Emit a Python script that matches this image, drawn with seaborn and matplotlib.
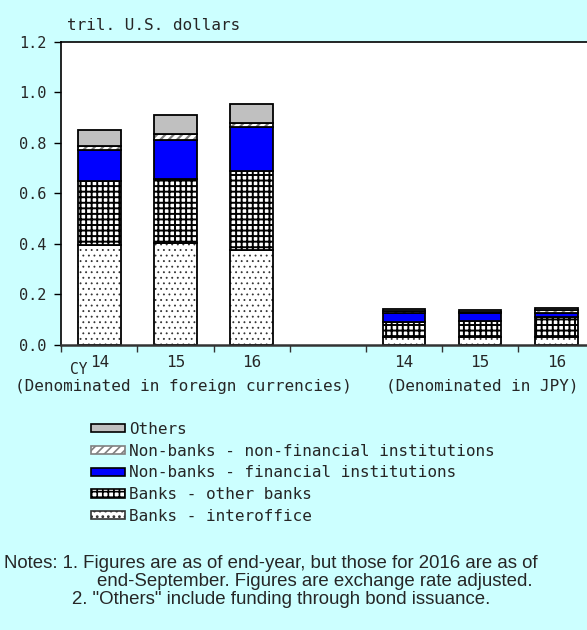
import matplotlib
matplotlib.use("Agg")
import matplotlib.pyplot as plt
import seaborn as sns
import pandas as pd
import numpy as np
from matplotlib.patches import Patch

# ---- data ----
categories = ["FC14", "FC15", "FC16", "GAP", "JP14", "JP15", "JP16"]
tick_labels = ["14", "15", "16", "", "14", "15", "16"]
bar_cats = ["FC14", "FC15", "FC16", "JP14", "JP15", "JP16"]
interoffice = [0.396, 0.402, 0.375, 0.030, 0.033, 0.030]
other_banks = [0.254, 0.255, 0.312, 0.062, 0.063, 0.080]
fin_inst = [0.121, 0.153, 0.174, 0.036, 0.029, 0.018]
nonfin_inst = [0.017, 0.023, 0.017, 0.006, 0.006, 0.010]
others = [0.064, 0.078, 0.075, 0.007, 0.007, 0.008]
series_names = ["Banks - interoffice", "Banks - other banks",
                "Non-banks - financial institutions",
                "Non-banks - non-financial institutions", "Others"]
series_values = [interoffice, other_banks, fin_inst, nonfin_inst, others]
y_ticks = [0.0, 0.2, 0.4, 0.6, 0.8, 1.0, 1.2]

BG = "#CCFFFF"
MONO = "DejaVu Sans Mono"

sns.set_theme(style="white")
plt.rcParams["font.family"] = [MONO]
plt.rcParams["hatch.linewidth"] = 1.4

styles = [
    dict(facecolor="white", hatch="...", hcolor="#333333", hlw=0.6),
    dict(facecolor="white", hatch="+++", hcolor="black", hlw=1.4),
    dict(facecolor="#0000FF", hatch=None, hcolor="black", hlw=1.4),
    dict(facecolor="white", hatch="////", hcolor="#808080", hlw=1.6),
    dict(facecolor="#C0C0C0", hatch=None, hcolor="black", hlw=1.4),
]

fig = plt.figure(figsize=(5.87, 6.30), dpi=100, facecolor=BG)
ax = fig.add_axes([0.1045, 0.4524, 0.908, 0.4814])
ax.set_facecolor("white")

bottom = np.zeros(len(bar_cats))
for name, vals, st in zip(series_names, series_values, styles):
    plt.rcParams["hatch.linewidth"] = st["hlw"]
    df = pd.DataFrame({"cat": bar_cats, "val": vals})
    n_before = len(ax.patches)
    sns.barplot(data=df, x="cat", y="val", order=categories, ax=ax,
                width=0.56, bottom=bottom.copy(), errorbar=None,
                color=st["facecolor"], saturation=1, linewidth=0)
    for p in ax.patches[n_before:]:
        p.set_facecolor(st["facecolor"])
        if st["hatch"]:
            p.set_hatch(st["hatch"])
            p.set_edgecolor(st["hcolor"])
            if hasattr(p, "set_hatch_linewidth"):
                p.set_hatch_linewidth(st["hlw"])
        else:
            p.set_edgecolor(st["facecolor"])
        p.set_linewidth(0)
    n_before = len(ax.patches)
    sns.barplot(data=df, x="cat", y="val", order=categories, ax=ax,
                width=0.56, bottom=bottom.copy(), errorbar=None,
                color="black", saturation=1, fill=False, linewidth=1.3)
    for p in ax.patches[n_before:]:
        p.set_fill(False)
        p.set_edgecolor("black")
        p.set_linewidth(1.3)
    bottom = bottom + np.array(vals)
plt.rcParams["hatch.linewidth"] = 1.2

ax.set_xlim(-0.5, 6.5)
ax.set_ylim(0, 1.2)
ax.set_yticks(y_ticks)
ax.set_yticklabels([f"{v:.1f}" for v in y_ticks], fontsize=11, family=MONO)
ax.set_xticks(range(len(categories)))
ax.set_xticklabels(tick_labels, fontsize=11.5, family=MONO)
ax.set_xticks(np.arange(-0.5, 6.6, 1.0), minor=True)
ax.tick_params(axis="x", which="major", length=0, pad=7)
ax.tick_params(axis="x", which="minor", length=5, width=1, color="#333333", direction="out", bottom=True)
ax.tick_params(axis="y", which="major", length=5, width=1, color="black", direction="out", left=True, pad=6)
ax.set_xlabel("")
ax.set_ylabel("")
for s in ["left", "bottom", "top", "right"]:
    ax.spines[s].set_visible(True)
    ax.spines[s].set_color("black")
    ax.spines[s].set_linewidth(1.2)
ax.spines["bottom"].set_color("#333333")
ax.spines["bottom"].set_linewidth(1.8)

def fx(px):
    return px / 587.0

def fy(py):
    return 1 - py / 630.0

fig.text(fx(67), fy(25), "tril. U.S. dollars", fontsize=11.5, family=MONO, va="center", ha="left")
fig.text(fx(79), fy(370), "CY", fontsize=10.5, family=MONO, va="center", ha="center")
fig.text(fx(15), fy(386), "(Denominated in foreign currencies)", fontsize=11.5, family=MONO, va="center", ha="left")
fig.text(fx(578), fy(386), "(Denominated in JPY)", fontsize=11.5, family=MONO, va="center", ha="right")

handles = []
for name, st in zip(series_names, styles):
    ec = st["hcolor"] if st["hatch"] else "black"
    handles.append(Patch(facecolor=st["facecolor"], edgecolor=ec, hatch=st["hatch"], linewidth=1.2, label=name))
handles = handles[::-1]
fig.legend(handles=handles, loc="upper left", bbox_to_anchor=(fx(91), fy(422)),
           frameon=False, borderpad=0, borderaxespad=0, handlelength=2.15,
           handleheight=0.42, handletextpad=0.25, labelspacing=0.42,
           prop={"family": MONO, "size": 11.5})

notes_kw = dict(fontsize=13.4, family="Liberation Sans", va="center", ha="left")
fig.text(fx(4), fy(564), "Notes: 1. Figures are as of end-year, but those for 2016 are as of", **notes_kw)
fig.text(fx(97), fy(582), "end-September. Figures are exchange rate adjusted.", **notes_kw)
fig.text(fx(72), fy(600), "2. \"Others\" include funding through bond issuance.", **notes_kw)

fig.savefig("out.png", dpi=100, facecolor=BG)
